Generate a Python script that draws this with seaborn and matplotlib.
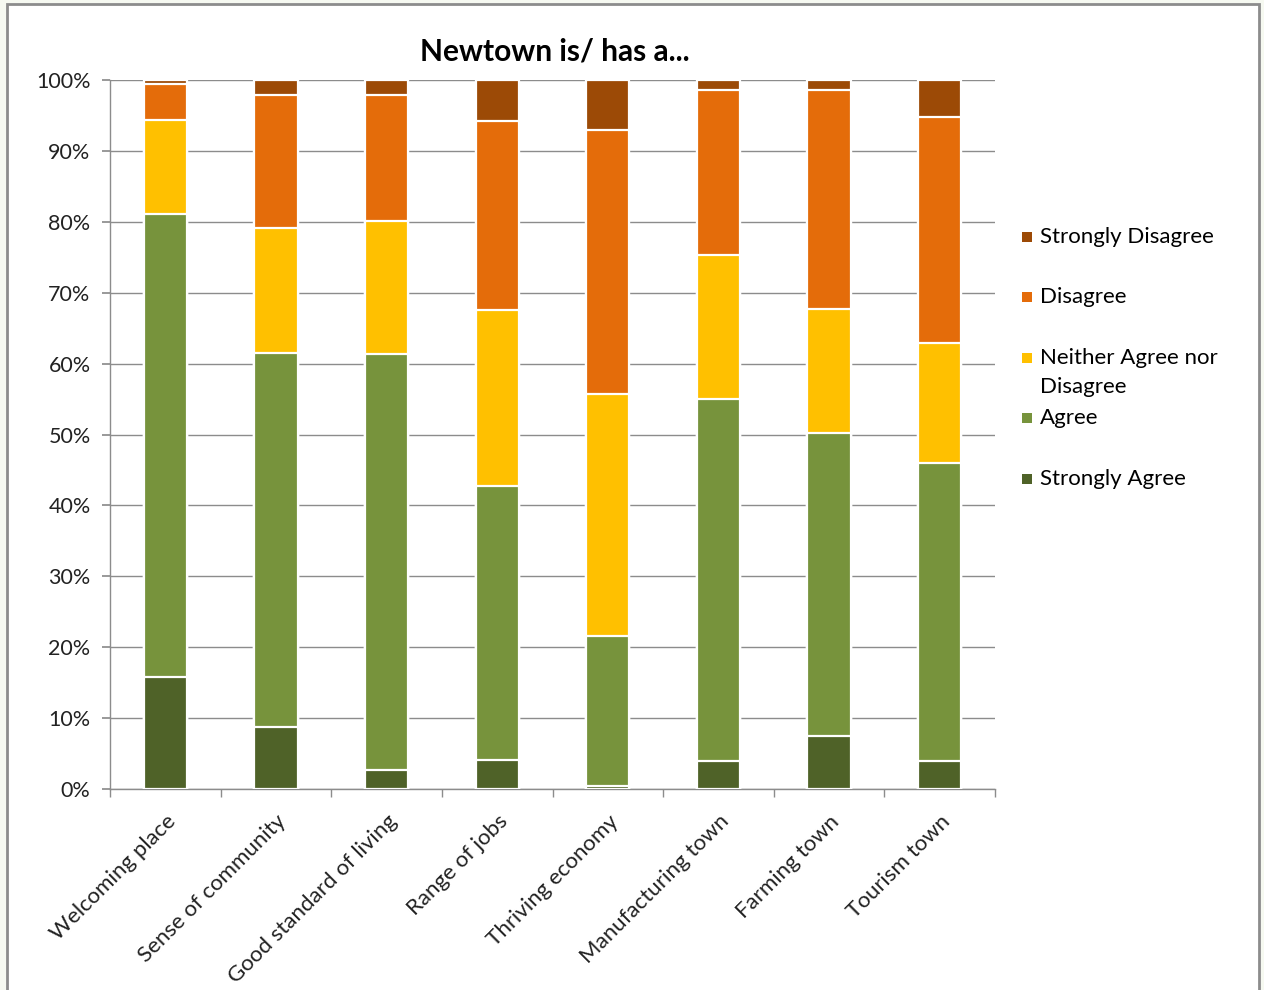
import numpy as np
import pandas as pd
import matplotlib
matplotlib.use("Agg")
import matplotlib.pyplot as plt
from matplotlib.patches import Rectangle
from matplotlib.ticker import FuncFormatter, FixedLocator
import seaborn as sns

categories = ["Welcoming place", "Sense of community", "Good standard of living",
              "Range of jobs", "Thriving economy", "Manufacturing town",
              "Farming town", "Tourism town"]
strongly_agree = [15.8, 8.7, 2.7, 4.1, 0.4, 3.9, 7.5, 3.9]
agree = [65.3, 52.8, 58.7, 38.6, 21.2, 51.1, 42.7, 42.1]
neither = [13.3, 17.6, 18.7, 24.9, 34.1, 20.3, 17.5, 16.9]
disagree = [5.0, 18.8, 17.8, 26.6, 37.2, 23.3, 30.9, 31.9]
strongly_disagree = [0.6, 2.1, 2.1, 5.8, 7.1, 1.4, 1.4, 5.2]

series_names = ["Strongly Agree", "Agree", "Neither Agree nor\nDisagree",
                "Disagree", "Strongly Disagree"]
series_vals = [strongly_agree, agree, neither, disagree, strongly_disagree]
colors = ["#4F6228", "#77933C", "#FFC000", "#E46C0A", "#9C4A06"]

sns.set_theme(style="white")
plt.rcParams["font.family"] = ["Lato", "DejaVu Sans"]

fig = plt.figure(figsize=(12.64, 9.9), dpi=100)
fig.patch.set_facecolor("#F6F9F1")
# white chart area with gray frame
frame = Rectangle((7/1264, -0.01), 1252/1264, 1 - 4/990 + 0.01,
                  transform=fig.transFigure, facecolor="white",
                  edgecolor="#8C8C8C", linewidth=2, zorder=-10)
fig.patches.append(frame)

ax = fig.add_axes([110/1264, 1 - 789/990, 885/1264, 709/990])
ax.set_facecolor("none")
ax.set_zorder(1)

cum = np.cumsum(np.array(series_vals), axis=0)
df = pd.DataFrame({"cat": categories})
for i in range(len(series_vals) - 1, -1, -1):
    df["val"] = cum[i]
    sns.barplot(data=df, x="cat", y="val", order=categories, color=colors[i],
                saturation=1, width=0.39, edgecolor="white", linewidth=1.6,
                ax=ax, zorder=3)

ax.set_ylim(0, 100)
ax.set_xlim(-0.5, len(categories) - 0.5)
ax.set_yticks(np.arange(0, 101, 10))
ax.yaxis.set_major_formatter(FuncFormatter(lambda v, p: f"{v:.0f}%"))
ax.grid(axis="y", color="#8C8C8C", linewidth=1, zorder=0)
ax.set_axisbelow(True)
for s in ["top", "right"]:
    ax.spines[s].set_visible(False)
for s in ["left", "bottom"]:
    ax.spines[s].set_color("#8C8C8C")
    ax.spines[s].set_linewidth(1)
ax.tick_params(axis="y", which="major", direction="out", length=6, color="#8C8C8C",
               left=True, labelsize=15.5, labelcolor="#222222", pad=8)
ax.tick_params(axis="x", which="major", length=0, labelsize=16,
               labelcolor="#222222", pad=16)
ax.xaxis.set_minor_locator(FixedLocator(np.arange(-0.5, len(categories), 1.0)))
ax.tick_params(axis="x", which="minor", direction="out", length=6,
               color="#8C8C8C", bottom=True)
ax.set_xlabel("")
ax.set_ylabel("")
for lbl in ax.get_xticklabels():
    lbl.set_rotation(45)
    lbl.set_ha("right")
    lbl.set_rotation_mode("anchor")

fig.text(555/1264, 1 - 52/990, "Newtown is/ has a...", ha="center", va="center",
         fontsize=21.5, fontweight="bold", color="#000000")

# legend (top to bottom: reverse of stacking order)
leg_y = [237, 297, 358, 418, 479]
for name, col, yy in zip(series_names[::-1], colors[::-1], leg_y):
    fig.patches.append(Rectangle((1022/1264, 1 - (yy + 5)/990), 10/1264, 10/990,
                                 transform=fig.transFigure, facecolor=col,
                                 edgecolor="none", zorder=5))
    fig.text(1040/1264, 1 - yy/990, name.split("\n")[0], ha="left", va="center",
             fontsize=16, color="#000000")
    if "\n" in name:
        fig.text(1040/1264, 1 - (yy + 29)/990, name.split("\n")[1], ha="left",
                 va="center", fontsize=16, color="#000000")

fig.savefig("out.png", dpi=100)
